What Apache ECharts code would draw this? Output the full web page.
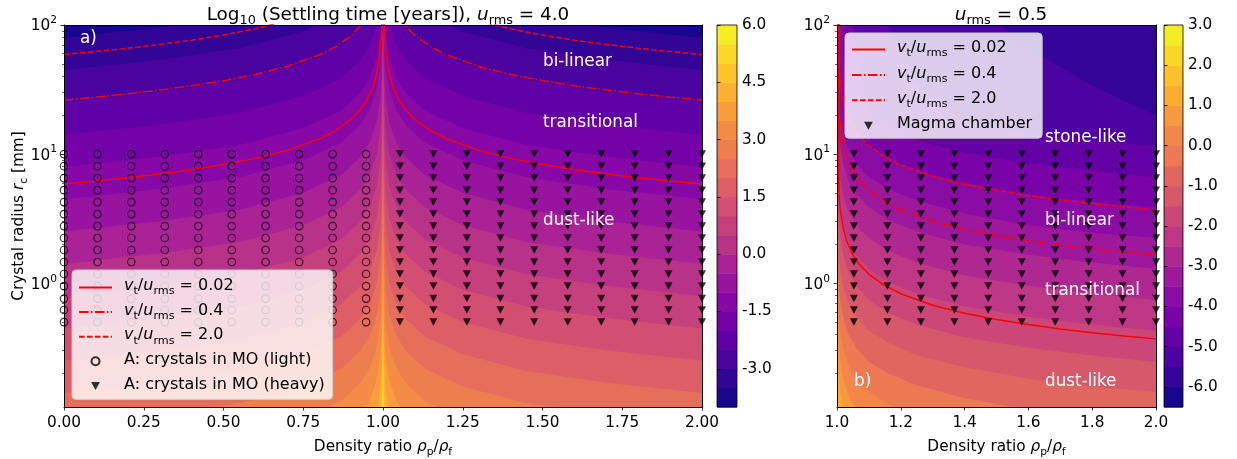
<!DOCTYPE html>
<html>
<head>
<meta charset="utf-8">
<title>Settling time</title>
<script src="https://cdn.jsdelivr.net/npm/echarts@6.0.0/dist/echarts.min.js"></script>
<style>
html,body{margin:0;padding:0;background:#ffffff;}
#chart{width:1237px;height:459px;}
</style>
</head>
<body>
<div id="chart"></div>
<script>
// ================= DATA =================
// Radii are given as log10(r_c / mm) (positions read in decades on the log axis).

// ---- Panel a) u_rms = 4.0 : filled contours of log10(settling time [years]) ----
const aContourX = [0, 0.3, 0.55, 0.75, 0.87, 0.93, 0.96, 0.98, 0.99, 0.996, 1.0, 1.004, 1.01, 1.02, 1.04, 1.07, 1.13, 1.25, 1.45, 1.7, 2.0];
const aLevels = [-4, -3.5, -3, -2.5, -2, -1.5, -1, -0.5, 0, 0.5, 1, 1.5, 2, 2.5, 3, 3.5, 4, 4.5, 5, 5.5];
const aLevelMax = 6;
// one row per level: log10 r_c below which the settling time exceeds that level
const aContourLogR = [
  [3,3,3,3,3,3,3,3,3,3,3,3,3,3,3,3,3,3,3,3,3],
  [1.9,1.98,2.07,2.2,2.34,2.48,2.6,2.75,2.9,3.1,3.69,3.1,2.9,2.75,2.6,2.48,2.34,2.2,2.07,1.98,1.9],
  [1.65,1.73,1.82,1.95,2.09,2.23,2.35,2.5,2.65,2.85,3.44,2.85,2.65,2.5,2.35,2.23,2.09,1.95,1.82,1.73,1.65],
  [1.4,1.48,1.57,1.7,1.84,1.98,2.1,2.25,2.4,2.6,3.19,2.6,2.4,2.25,2.1,1.98,1.84,1.7,1.57,1.48,1.4],
  [1.15,1.23,1.32,1.45,1.59,1.73,1.85,2.0,2.15,2.35,2.94,2.35,2.15,2.0,1.85,1.73,1.59,1.45,1.32,1.23,1.15],
  [0.9,0.98,1.07,1.2,1.34,1.48,1.6,1.75,1.9,2.1,2.69,2.1,1.9,1.75,1.6,1.48,1.34,1.2,1.07,0.98,0.9],
  [0.65,0.73,0.82,0.95,1.09,1.23,1.35,1.5,1.65,1.85,2.44,1.85,1.65,1.5,1.35,1.23,1.09,0.95,0.82,0.73,0.65],
  [0.4,0.48,0.57,0.7,0.84,0.98,1.1,1.25,1.4,1.6,2.19,1.6,1.4,1.25,1.1,0.98,0.84,0.7,0.57,0.48,0.4],
  [0.15,0.23,0.32,0.45,0.59,0.73,0.85,1.0,1.15,1.35,1.94,1.35,1.15,1.0,0.85,0.73,0.59,0.45,0.32,0.23,0.15],
  [-0.1,-0.02,0.07,0.2,0.34,0.48,0.6,0.75,0.9,1.1,1.69,1.1,0.9,0.75,0.6,0.48,0.34,0.2,0.07,-0.02,-0.1],
  [-0.35,-0.27,-0.18,-0.05,0.09,0.23,0.35,0.5,0.65,0.85,1.44,0.85,0.65,0.5,0.35,0.23,0.09,-0.05,-0.18,-0.27,-0.35],
  [-0.6,-0.52,-0.43,-0.3,-0.16,-0.02,0.1,0.25,0.4,0.6,1.19,0.6,0.4,0.25,0.1,-0.02,-0.16,-0.3,-0.43,-0.52,-0.6],
  [-0.85,-0.77,-0.68,-0.55,-0.41,-0.27,-0.15,0,0.15,0.35,0.94,0.35,0.15,0,-0.15,-0.27,-0.41,-0.55,-0.68,-0.77,-0.85],
  [-1.1,-1.02,-0.93,-0.8,-0.66,-0.52,-0.4,-0.25,-0.1,0.1,0.69,0.1,-0.1,-0.25,-0.4,-0.52,-0.66,-0.8,-0.93,-1.02,-1.1],
  [-1.35,-1.27,-1.18,-1.05,-0.91,-0.77,-0.65,-0.5,-0.35,-0.15,0.44,-0.15,-0.35,-0.5,-0.65,-0.77,-0.91,-1.05,-1.18,-1.27,-1.35],
  [-1.6,-1.52,-1.43,-1.3,-1.16,-1.02,-0.9,-0.75,-0.6,-0.4,0.19,-0.4,-0.6,-0.75,-0.9,-1.02,-1.16,-1.3,-1.43,-1.52,-1.6],
  [-1.85,-1.77,-1.68,-1.55,-1.41,-1.27,-1.15,-1.0,-0.85,-0.65,-0.06,-0.65,-0.85,-1.0,-1.15,-1.27,-1.41,-1.55,-1.68,-1.77,-1.85],
  [-2.1,-2.02,-1.93,-1.8,-1.66,-1.52,-1.4,-1.25,-1.1,-0.9,-0.31,-0.9,-1.1,-1.25,-1.4,-1.52,-1.66,-1.8,-1.93,-2.02,-2.1],
  [-2.35,-2.27,-2.18,-2.05,-1.91,-1.77,-1.65,-1.5,-1.35,-1.15,-0.56,-1.15,-1.35,-1.5,-1.65,-1.77,-1.91,-2.05,-2.18,-2.27,-2.35],
  [-2.6,-2.52,-2.43,-2.3,-2.16,-2.02,-1.9,-1.75,-1.6,-1.4,-0.81,-1.4,-1.6,-1.75,-1.9,-2.02,-2.16,-2.3,-2.43,-2.52,-2.6]
];
// v_t/u_rms curves, panel a (two branches each, either side of rho_p/rho_f = 1)
const aSolidLeftX  = [0, 0.1, 0.2, 0.3, 0.4, 0.5, 0.6, 0.7, 0.8, 0.85, 0.9, 0.93, 0.95, 0.97, 0.98, 0.99, 0.995, 0.997];
const aSolidLeft   = [0.768, 0.791, 0.817, 0.846, 0.879, 0.919, 0.967, 1.029, 1.118, 1.18, 1.268, 1.346, 1.419, 1.529, 1.618, 1.768, 1.919, 2.03];
const aSolidRightX = [1.003, 1.005, 1.01, 1.02, 1.03, 1.05, 1.07, 1.1, 1.15, 1.2, 1.3, 1.4, 1.5, 1.6, 1.7, 1.8, 1.9, 2.0];
const aSolidRight  = [2.03, 1.919, 1.768, 1.618, 1.529, 1.419, 1.346, 1.268, 1.18, 1.118, 1.029, 0.967, 0.919, 0.879, 0.846, 0.817, 0.791, 0.768];
const aDashDotLeftX  = [0, 0.1, 0.2, 0.3, 0.4, 0.5, 0.6, 0.7, 0.8, 0.85, 0.9, 0.93, 0.95];
const aDashDotLeft   = [1.418, 1.441, 1.467, 1.496, 1.529, 1.569, 1.617, 1.679, 1.768, 1.83, 1.918, 1.996, 2.069];
const aDashDotRightX = [1.05, 1.07, 1.1, 1.15, 1.2, 1.3, 1.4, 1.5, 1.6, 1.7, 1.8, 1.9, 2.0];
const aDashDotRight  = [2.069, 1.996, 1.918, 1.83, 1.768, 1.679, 1.617, 1.569, 1.529, 1.496, 1.467, 1.441, 1.418];
const aDashedLeftX  = [0, 0.1, 0.2, 0.3, 0.4, 0.5, 0.6, 0.7];
const aDashedLeft   = [1.771, 1.794, 1.82, 1.849, 1.882, 1.922, 1.97, 2.032];
const aDashedRightX = [1.3, 1.4, 1.5, 1.6, 1.7, 1.8, 1.9, 2.0];
const aDashedRight  = [2.032, 1.97, 1.922, 1.882, 1.849, 1.82, 1.794, 1.771];

// ---- Panel b) u_rms = 0.5 ----
const bContourX = [1.0, 1.002, 1.005, 1.01, 1.02, 1.035, 1.06, 1.1, 1.16, 1.25, 1.4, 1.6, 1.8, 2.0];
const bLevels = [-6.5, -6, -5.5, -5, -4.5, -4, -3.5, -3, -2.5, -2, -1.5, -1, -0.5, 0, 0.5, 1, 1.5, 2, 2.5];
const bLevelMax = 3;
const bContourLogR = [
  [3,3,3,3,3,3,3,3,3,3,3,3,3,3],
  [3,3,3,3,3,3,3,3,3,3,3,3,3,3],
  [3,3,3,3,3,3,3,3,3,2.7,2.23,1.82,1.53,1.3],
  [3,3,3,3,3,3,3,2.47,1.99,1.54,1.25,1.17,1.11,1.06],
  [3,3,3,3,3,2.36,1.82,1.3,1.2,1.11,1.01,0.93,0.87,0.82],
  [3,3,3,2.47,1.77,1.28,1.17,1.06,0.97,0.87,0.78,0.69,0.63,0.59],
  [3,3,2.0,1.3,1.16,1.04,0.93,0.82,0.73,0.64,0.54,0.45,0.39,0.35],
  [3,1.77,1.21,1.06,0.92,0.8,0.69,0.59,0.49,0.4,0.3,0.22,0.16,0.11],
  [2.0,1.16,0.97,0.82,0.68,0.56,0.45,0.35,0.25,0.16,0.06,-0.02,-0.08,-0.13],
  [1.2,0.92,0.73,0.59,0.44,0.33,0.22,0.11,0.01,-0.08,-0.18,-0.26,-0.32,-0.37],
  [0.97,0.68,0.49,0.35,0.21,0.09,-0.02,-0.13,-0.23,-0.32,-0.42,-0.5,-0.56,-0.61],
  [0.73,0.44,0.25,0.11,-0.03,-0.15,-0.26,-0.37,-0.46,-0.56,-0.65,-0.74,-0.8,-0.84],
  [0.49,0.21,0.01,-0.13,-0.27,-0.39,-0.5,-0.61,-0.7,-0.79,-0.89,-0.98,-1.04,-1.08],
  [0.25,-0.03,-0.22,-0.37,-0.51,-0.63,-0.74,-0.84,-0.94,-1.03,-1.13,-1.21,-1.27,-1.32],
  [0.01,-0.27,-0.46,-0.61,-0.75,-0.86,-0.98,-1.08,-1.18,-1.27,-1.37,-1.45,-1.51,-1.56],
  [-0.22,-0.51,-0.7,-0.84,-0.99,-1.1,-1.21,-1.32,-1.42,-1.51,-1.61,-1.69,-1.75,-1.8],
  [-0.46,-0.75,-0.94,-1.08,-1.22,-1.34,-1.45,-1.56,-1.65,-1.75,-1.84,-1.93,-1.99,-2.03],
  [-0.7,-0.99,-1.18,-1.32,-1.46,-1.58,-1.69,-1.8,-1.89,-1.98,-2.08,-2.17,-2.23,-2.27],
  [-0.94,-1.22,-1.42,-1.56,-1.7,-1.82,-1.93,-2.03,-2.13,-2.22,-2.32,-2.4,-2.46,-2.51]
];
const bLineX    = [1.004, 1.006, 1.01, 1.02, 1.03, 1.05, 1.07, 1.1, 1.15, 1.2, 1.3, 1.4, 1.5, 1.6, 1.7, 1.8, 1.9, 2.0];
const bSolid    = [2.5, 0.68, 0.569, 0.419, 0.33, 0.22, 0.147, 0.069, -0.019, -0.081, -0.17, -0.232, -0.281, -0.32, -0.354, -0.383, -0.408, -0.431];
const bDashDot  = [2.5, 1.33, 1.219, 1.069, 0.98, 0.87, 0.797, 0.719, 0.631, 0.569, 0.48, 0.418, 0.37, 0.33, 0.297, 0.268, 0.242, 0.219];
const bDashed   = [2.5, 1.678, 1.567, 1.417, 1.328, 1.218, 1.145, 1.067, 0.979, 0.917, 0.829, 0.766, 0.718, 0.678, 0.645, 0.616, 0.59, 0.567];

// ---- crystal markers ----
const lightX   = [0.0, 0.105, 0.211, 0.316, 0.421, 0.526, 0.632, 0.737, 0.842, 0.947];
const heavyX   = [1.053, 1.158, 1.263, 1.368, 1.474, 1.579, 1.684, 1.789, 1.895, 2.0];
const crystalR = [0.5, 0.62, 0.76, 0.95, 1.18, 1.46, 1.81, 2.24, 2.77, 3.43, 4.25, 5.26, 6.52, 8.07, 10.0];

// ---- names / tick labels ----
const lineNames = ['vt/urms = 0.02', 'vt/urms = 0.4', 'vt/urms = 2.0'];
const lineValues = ['0.02', '0.4', '2.0'];
const lightName = 'A: crystals in MO (light)';
const heavyName = 'A: crystals in MO (heavy)';
const chamberName = 'Magma chamber';
const yMajorTicks = [1, 10, 100];
const yMinorTicks = [0.2, 0.3, 0.4, 0.5, 0.6, 0.7, 0.8, 0.9, 2, 3, 4, 5, 6, 7, 8, 9, 20, 30, 40, 50, 60, 70, 80, 90];
const aCbarTicks = [-3, -1.5, 0, 1.5, 3, 4.5, 6];
const bCbarTicks = [-6, -5, -4, -3, -2, -1, 0, 1, 2, 3];

// ================= STYLE HELPERS =================
const FONT = 'DejaVu Sans';
const TICK_FS = 15.3, LEG_FS = 16, TITLE_FS = 18.4, REGION_FS = 16.8;
const PLASMA = [[13,8,135],[34,6,144],[65,4,157],[84,2,163],[106,0,168],[126,3,168],[143,13,164],[160,26,156],[177,42,144],[191,57,132],[204,71,120],[216,87,107],[225,100,98],[236,120,83],[242,132,75],[248,148,65],[252,166,54],[252,185,43],[252,206,37],[247,226,37],[240,249,33]];
function plasma(t) {
  const p = Math.max(0, Math.min(1, t)) * 20;
  const i = Math.min(19, Math.floor(p)), f = p - i;
  const a = PLASMA[i], b = PLASMA[i + 1];
  return 'rgb(' + [0,1,2].map(k => Math.round(a[k] + (b[k] - a[k]) * f)).join(',') + ')';
}
function mathRich(fs) {
  const lh = Math.round(fs * 1.2);
  const base = {fontFamily: FONT, fontSize: fs, fontWeight: 'normal', color: '#000', lineHeight: lh, verticalAlign: 'bottom', padding: [0, 0, 3, 0]};
  return {
    n: base,
    it: Object.assign({}, base, {fontStyle: 'italic'}),
    sb: {fontFamily: FONT, fontSize: Math.round(fs * 7) / 10, fontWeight: 'normal', color: '#000', lineHeight: Math.round(fs * 0.85), verticalAlign: 'bottom'},
    g: {fontFamily: FONT, fontSize: fs, width: 7, lineHeight: lh}
  };
}
function vtLabel(val) { return '{it|v}{sb|t}{n|/}{it|u}{sb|rms}{n| = ' + val + '}'; }
function legendFormatter(name) {
  const i = lineNames.indexOf(name);
  if (i >= 0) return '{g| }' + vtLabel(lineValues[i]);
  return '{g| }{n|' + name + '}';
}
const pts = (xs, lrs) => xs.map((x, i) => [x, Math.pow(10, lrs[i])]);
const grid = (xs, ys) => { const out = []; xs.forEach(x => ys.forEach(y => out.push([x, y]))); return out; };

function contourSeries(xs, levels, rows, xi, yi) {
  const n = levels.length;
  return rows.map((row, k) => ({
    type: 'line', name: 'contour', xAxisIndex: xi, yAxisIndex: yi,
    data: pts(xs, row), symbol: 'none', showSymbol: false, smooth: false, silent: true, z: 1,
    lineStyle: {width: 0, opacity: 0},
    areaStyle: {color: plasma((k + 0.5) / n), opacity: 1, origin: 'start'},
    emphasis: {disabled: true}, clip: true, animation: false
  }));
}
const DASH = {solid: 'solid', dashdot: [9.6, 2.4, 1.5, 2.4], dashed: [5.55, 2.4]};
function redLine(name, xs, lrs, type, xi, yi) {
  return {type: 'line', name, xAxisIndex: xi, yAxisIndex: yi, data: pts(xs, lrs),
    symbol: 'none', showSymbol: false, silent: true, z: 3, clip: true,
    lineStyle: {color: '#ff0000', width: 1.5, type},
    itemStyle: {color: '#ff0000', opacity: 0}, emphasis: {disabled: true}, animation: false};
}
const circleStyle = {color: 'rgba(0,0,0,0)', borderColor: '#000', borderWidth: 1.1};
const TRI = 'path://M0,0L10,0L5,9Z';
function colorbarSeries(levels, top, xi, yi) {
  const n = levels.length;
  const data = levels.map((lo, k) => [0.5, lo, k + 1 < n ? levels[k + 1] : top, k]);
  return [{
    type: 'custom', xAxisIndex: xi, yAxisIndex: yi, silent: true, z: 2, data,
    renderItem: (params, api) => {
      const p0 = api.coord([0, api.value(2)]), p1 = api.coord([1, api.value(1)]);
      return {type: 'rect', shape: {x: p0[0], y: p0[1], width: p1[0] - p0[0], height: p1[1] - p0[1] + 0.5},
        style: {fill: plasma((api.value(3) + 0.5) / n)}};
    }
  }, {
    type: 'custom', xAxisIndex: xi, yAxisIndex: yi, silent: true, z: 5, data: [[0.5, levels[0], top]],
    renderItem: (params, api) => {
      const p0 = api.coord([0, api.value(2)]), p1 = api.coord([1, api.value(1)]);
      return {type: 'rect', shape: {x: p0[0], y: p0[1], width: p1[0] - p0[0], height: p1[1] - p0[1]},
        style: {fill: 'none', stroke: '#000', lineWidth: 0.8}};
    }
  }];
}

// ================= AXES =================
const lineAx = {show: true, onZero: false, lineStyle: {color: '#000', width: 1}};
const tickAx = {show: true, length: 3.5, lineStyle: {color: '#000', width: 0.8}};
const labAx = {color: '#000', fontFamily: FONT, fontSize: TICK_FS};
const xName = '{n|Density ratio }{it|ρ}{sb|p}{n|/}{it|ρ}{sb|f}';
const yName = '{n|Crystal radius }{it|r}{sb|c}{n| [mm]}';
const expFmt = v => '{b|10}{p|' + Math.round(Math.log10(v)) + '}';
const expRich = {
  b: {fontFamily: FONT, fontSize: TICK_FS, color: '#000', lineHeight: 18, verticalAlign: 'bottom'},
  p: {fontFamily: FONT, fontSize: 10.7, color: '#000', lineHeight: 12, verticalAlign: 'bottom', padding: [0, 0, 8, 0]}
};
function logMain(gridIndex, withName) {
  const ax = {type: 'log', gridIndex, min: 0.11, max: 100, position: 'left', z: 10,
    axisLine: lineAx, axisTick: Object.assign({customValues: yMajorTicks}, tickAx),
    axisLabel: Object.assign({customValues: yMajorTicks, formatter: expFmt, rich: expRich, margin: 7}, labAx),
    splitLine: {show: false}, minorTick: {show: false}};
  if (withName) Object.assign(ax, {name: yName, nameLocation: 'middle', nameGap: 34, nameMoveOverlap: false,
    nameTextStyle: {rich: mathRich(TICK_FS)}});
  return ax;
}
function logMinor(gridIndex) {
  return {type: 'log', gridIndex, min: 0.11, max: 100, position: 'left', z: 10,
    axisLine: {show: false}, axisTick: {show: true, length: 2, customValues: yMinorTicks, lineStyle: {color: '#000', width: 0.6}},
    axisLabel: {show: false}, splitLine: {show: false}};
}
function logFrame(gridIndex) {
  return {type: 'log', gridIndex, min: 0.11, max: 100, position: 'right', z: 10,
    axisLine: lineAx, axisTick: {show: false}, axisLabel: {show: false}, splitLine: {show: false}};
}
function cbarY(gridIndex, min, max, ticks) {
  return {type: 'value', gridIndex, min, max, position: 'right', z: 10,
    axisLine: {show: false}, axisTick: Object.assign({customValues: ticks}, tickAx),
    axisLabel: Object.assign({customValues: ticks, formatter: v => v.toFixed(1), margin: 5}, labAx),
    splitLine: {show: false}};
}

const option = {
  animation: false,
  backgroundColor: '#ffffff',
  textStyle: {fontFamily: FONT},
  title: [
    {text: '{n|Log}{sb|10}{n| (Settling time [years]), }{it|u}{sb|rms}{n| = 4.0}', left: 383, top: 0, textAlign: 'center',
     textStyle: {fontWeight: 'normal', fontFamily: FONT, fontSize: TITLE_FS, color: '#000', rich: mathRich(TITLE_FS)}},
    {text: '{it|u}{sb|rms}{n| = 0.5}', left: 996, top: 0, textAlign: 'center',
     textStyle: {fontWeight: 'normal', fontFamily: FONT, fontSize: TITLE_FS, color: '#000', rich: mathRich(TITLE_FS)}}
  ],
  grid: [
    {left: 64, top: 25, width: 638, height: 382, outerBoundsMode: 'none', containLabel: false},
    {left: 717, top: 25, width: 20, height: 382, outerBoundsMode: 'none', containLabel: false},
    {left: 837, top: 25, width: 319, height: 382, outerBoundsMode: 'none', containLabel: false},
    {left: 1164, top: 25, width: 19, height: 382, outerBoundsMode: 'none', containLabel: false}
  ],
  xAxis: [
    {type: 'value', gridIndex: 0, min: 0, max: 2, interval: 0.25, position: 'bottom', z: 10,
     axisLine: lineAx, axisTick: tickAx, axisLabel: Object.assign({formatter: v => v.toFixed(2), margin: 9}, labAx),
     splitLine: {show: false}, name: xName, nameLocation: 'middle', nameGap: 33, nameTextStyle: {rich: mathRich(TICK_FS)}},
    {type: 'value', gridIndex: 0, min: 0, max: 2, position: 'top', z: 10, axisLine: lineAx,
     axisTick: {show: false}, axisLabel: {show: false}, splitLine: {show: false}},
    {type: 'value', gridIndex: 1, min: 0, max: 1, show: false},
    {type: 'value', gridIndex: 2, min: 1, max: 2, interval: 0.2, position: 'bottom', z: 10,
     axisLine: lineAx, axisTick: tickAx, axisLabel: Object.assign({formatter: v => v.toFixed(1), margin: 9}, labAx),
     splitLine: {show: false}, name: xName, nameLocation: 'middle', nameGap: 33, nameTextStyle: {rich: mathRich(TICK_FS)}},
    {type: 'value', gridIndex: 2, min: 1, max: 2, position: 'top', z: 10, axisLine: lineAx,
     axisTick: {show: false}, axisLabel: {show: false}, splitLine: {show: false}},
    {type: 'value', gridIndex: 3, min: 0, max: 1, show: false}
  ],
  yAxis: [
    logMain(0, true), logMinor(0), logFrame(0),
    cbarY(1, aLevels[0], aLevelMax, aCbarTicks),
    logMain(2, false), logMinor(2), logFrame(2),
    cbarY(3, bLevels[0], bLevelMax, bCbarTicks)
  ],
  legend: [
    {orient: 'vertical', left: 72, top: 270, padding: [8, 8, 4, 6], itemGap: 5.6, itemWidth: 33, itemHeight: 8,
     selectedMode: false, backgroundColor: 'rgba(255,255,255,0.8)', borderColor: '#cccccc', borderWidth: 1, borderRadius: 4,
     data: [
       {name: lineNames[0], itemStyle: {opacity: 0}}, {name: lineNames[1], itemStyle: {opacity: 0}},
       {name: lineNames[2], itemStyle: {opacity: 0}}, {name: lightName}, {name: heavyName}],
     formatter: legendFormatter, textStyle: {fontFamily: FONT, fontSize: LEG_FS, color: '#000', rich: mathRich(LEG_FS)}},
    {orient: 'vertical', left: 845, top: 33, padding: [7, 10, 3, 6], itemGap: 6.4, itemWidth: 33, itemHeight: 8,
     selectedMode: false, backgroundColor: 'rgba(255,255,255,0.8)', borderColor: '#cccccc', borderWidth: 1, borderRadius: 4,
     data: [
       {name: lineNames[0], itemStyle: {opacity: 0}}, {name: lineNames[1], itemStyle: {opacity: 0}},
       {name: lineNames[2], itemStyle: {opacity: 0}}, {name: chamberName}],
     formatter: legendFormatter, textStyle: {fontFamily: FONT, fontSize: LEG_FS, color: '#000', rich: mathRich(LEG_FS)}}
  ],
  graphic: {elements: [
    {type: 'text', x: 80, y: 39, z: 100, silent: true, style: {text: 'a)', fill: '#fff', font: REGION_FS + 'px "DejaVu Sans"', verticalAlign: 'middle'}},
    {type: 'text', x: 543, y: 62, z: 100, silent: true, style: {text: 'bi-linear', fill: '#fff', font: REGION_FS + 'px "DejaVu Sans"', verticalAlign: 'middle'}},
    {type: 'text', x: 543, y: 123, z: 100, silent: true, style: {text: 'transitional', fill: '#fff', font: REGION_FS + 'px "DejaVu Sans"', verticalAlign: 'middle'}},
    {type: 'text', x: 543, y: 221, z: 100, silent: true, style: {text: 'dust-like', fill: '#fff', font: REGION_FS + 'px "DejaVu Sans"', verticalAlign: 'middle'}},
    {type: 'text', x: 1045, y: 138, z: 100, silent: true, style: {text: 'stone-like', fill: '#fff', font: REGION_FS + 'px "DejaVu Sans"', verticalAlign: 'middle'}},
    {type: 'text', x: 1045, y: 221, z: 100, silent: true, style: {text: 'bi-linear', fill: '#fff', font: REGION_FS + 'px "DejaVu Sans"', verticalAlign: 'middle'}},
    {type: 'text', x: 1045, y: 291, z: 100, silent: true, style: {text: 'transitional', fill: '#fff', font: REGION_FS + 'px "DejaVu Sans"', verticalAlign: 'middle'}},
    {type: 'text', x: 1045, y: 382, z: 100, silent: true, style: {text: 'dust-like', fill: '#fff', font: REGION_FS + 'px "DejaVu Sans"', verticalAlign: 'middle'}},
    {type: 'text', x: 854, y: 382, z: 100, silent: true, style: {text: 'b)', fill: '#fff', font: REGION_FS + 'px "DejaVu Sans"', verticalAlign: 'middle'}}
  ]},
  series: [].concat(
    contourSeries(aContourX, aLevels, aContourLogR, 0, 0),
    [
      redLine(lineNames[0], aSolidLeftX, aSolidLeft, DASH.solid, 0, 0),
      redLine(lineNames[0], aSolidRightX, aSolidRight, DASH.solid, 0, 0),
      redLine(lineNames[1], aDashDotLeftX, aDashDotLeft, DASH.dashdot, 0, 0),
      redLine(lineNames[1], aDashDotRightX, aDashDotRight, DASH.dashdot, 0, 0),
      redLine(lineNames[2], aDashedLeftX, aDashedLeft, DASH.dashed, 0, 0),
      redLine(lineNames[2], aDashedRightX, aDashedRight, DASH.dashed, 0, 0),
      {type: 'scatter', name: lightName, xAxisIndex: 0, yAxisIndex: 0, data: grid(lightX, crystalR), symbol: 'circle', symbolSize: 7.5,
       itemStyle: circleStyle, z: 3, silent: true, animation: false},
      {type: 'scatter', name: heavyName, xAxisIndex: 0, yAxisIndex: 0, data: grid(heavyX, crystalR), symbol: TRI, symbolSize: [8, 7.5],
       itemStyle: {color: '#000'}, z: 3, silent: true, animation: false}
    ],
    colorbarSeries(aLevels, aLevelMax, 2, 3),
    contourSeries(bContourX, bLevels, bContourLogR, 3, 4),
    [
      redLine(lineNames[0], bLineX, bSolid, DASH.solid, 3, 4),
      redLine(lineNames[1], bLineX, bDashDot, DASH.dashdot, 3, 4),
      redLine(lineNames[2], bLineX, bDashed, DASH.dashed, 3, 4),
      {type: 'scatter', name: chamberName, xAxisIndex: 3, yAxisIndex: 4, data: grid(heavyX, crystalR), symbol: TRI, symbolSize: [8, 7.5],
       itemStyle: {color: '#000'}, z: 3, silent: true, animation: false}
    ],
    colorbarSeries(bLevels, bLevelMax, 5, 7)
  )
};

const chart = echarts.init(document.getElementById('chart'), null, {renderer: 'canvas', width: 1237, height: 459});
chart.setOption(option);
</script>
</body>
</html>
